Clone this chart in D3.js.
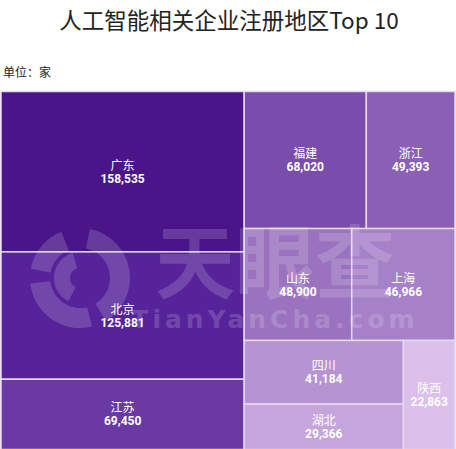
<!DOCTYPE html>
<html><head><meta charset="utf-8">
<script src="https://cdn.jsdelivr.net/npm/d3@7"></script>
<style>body{margin:0;background:#fff;font-family:"Noto Sans CJK SC","Noto Sans",sans-serif;}</style>
</head><body>
<svg id="c" width="456" height="449"></svg>
<script>
const regions = ["广东","北京","江苏","福建","浙江","山东","上海","四川","湖北","陕西"];
const counts = [158535,125881,69450,68020,49393,48900,46966,41184,29366,22863];
const colors = ["#4a1589","#57239a","#6a39a3","#7a4cac","#8a5fb5","#9a72bf","#a781c8","#b693d1","#c5a5db","#dcbfea"];
const title = "人工智能相关企业注册地区Top 10";
const unit = "单位：家";

const leaf = i => ({name: regions[i], value: counts[i], idx: i});
const tree = {children: [
  {children: [leaf(0), leaf(1), leaf(2)]},
  {children: [
    {children: [leaf(3), leaf(4)]},
    {children: [leaf(5), leaf(6)]},
    {children: [{children: [leaf(7), leaf(8)]}, leaf(9)]}
  ]}
]};

const svg = d3.select("#c");
svg.append("text").attr("x", 229).attr("y", 29).attr("text-anchor", "middle")
  .attr("font-size", 22.5).attr("fill", "#222").text(title);
svg.append("text").attr("x", 3).attr("y", 77).attr("font-size", 12).attr("fill", "#222").text(unit);

const root = d3.hierarchy(tree).sum(d => d.value || 0);
d3.treemap().tile(d3.treemapSliceDice).size([454, 358])(root);

const g = svg.append("g").attr("transform", "translate(1,91.5)");
const leaves = root.leaves();
g.selectAll("rect").data(leaves).join("rect")
  .attr("x", d => d.x0).attr("y", d => d.y0)
  .attr("width", d => d.x1 - d.x0).attr("height", d => d.y1 - d.y0)
  .attr("fill", d => colors[d.data.idx])
  .attr("stroke", "#e6d8f2").attr("stroke-width", 1.5);

// watermark
const wm = svg.append("g").attr("fill", "#fff").attr("opacity", 0.16);
const arc = d3.arc();
const cx = 80, cy = 278;
[[0.2, 2.6, 30, 50], [2.9, 4.6, 30, 50], [4.9, 5.9, 30, 50], [3.6, 6.0, 10, 26]].forEach(a => {
  wm.append("path").attr("transform", `translate(${cx},${cy})`)
    .attr("d", arc({innerRadius: a[2], outerRadius: a[3], startAngle: a[0], endAngle: a[1]}));
});
wm.append("text").attr("x", 275).attr("y", 292).attr("text-anchor", "middle")
  .attr("font-size", 80).attr("font-weight", "bold").text("天眼查");
wm.append("text").attr("x", 275).attr("y", 328).attr("text-anchor", "middle")
  .attr("font-size", 25).attr("font-weight", "bold").attr("letter-spacing", 4)
  .attr("font-family", "DejaVu Sans").text("TianYanCha.com");

const lab = svg.append("g").attr("transform", "translate(1,91.5)");
leaves.forEach(d => {
  const x = (d.x0 + d.x1) / 2, y = (d.y0 + d.y1) / 2;
  lab.append("text").attr("x", x).attr("y", y - 2).attr("text-anchor", "middle")
    .attr("font-size", 12).attr("fill", "#fff").text(d.data.name);
  lab.append("text").attr("x", x).attr("y", y + 11).attr("text-anchor", "middle")
    .attr("font-size", 12).attr("font-weight", "bold").attr("fill", "#fff")
    .attr("font-family", "Roboto, sans-serif").text(d3.format(",")(d.data.value));
});
</script>
</body></html>
